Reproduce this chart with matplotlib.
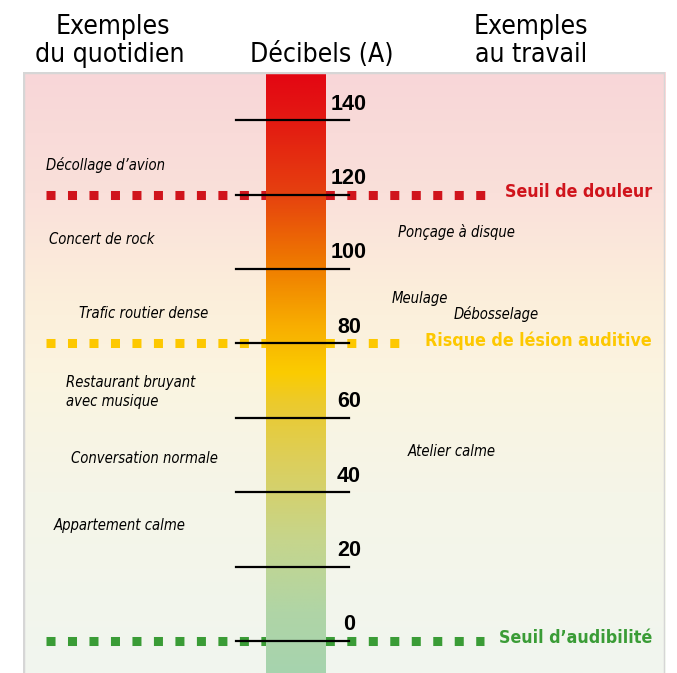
import numpy as np
import matplotlib
matplotlib.use("Agg")
import matplotlib.pyplot as plt
from matplotlib.colors import LinearSegmentedColormap

# ---------------------------------------------------------------- data
db_ticks = [0, 20, 40, 60, 80, 100, 120, 140]

daily_labels = ["Décollage d\u2019avion", "Concert de rock", "Trafic routier dense",
                "Restaurant bruyant\navec musique", "Conversation normale",
                "Appartement calme"]
daily_db = [128, 108, 88, 67, 49, 31]

work_labels = ["Ponçage à disque", "Meulage", "Débosselage", "Atelier calme"]
work_db = [110, 92, 88, 51]

threshold_labels = ["Seuil de douleur", "Risque de lésion auditive", "Seuil d\u2019audibilité"]
threshold_db = [120, 80, 0]

# ---------------------------------------------------------------- layout (pixels)
W, H = 677, 673
daily_x = [46, 49, 79, 66, 71, 54]
work_x = [398, 392, 454, 408]
thr_x_end = [486, 400, 484]
thr_colors = ["#d0141c", "#fdc800", "#3a9c36"]

COND = ["Liberation Sans Narrow", "DejaVu Sans"]

fig = plt.figure(figsize=(W / 100, H / 100), dpi=100)
fig.patch.set_facecolor("white")

# panel: x 23..665 px, y 72..673 px ; 0 dB at y=641, 3.72 px / dB
px_per_db = 3.72
y_top = (641 - 72) / px_per_db
y_bot = (641 - 673) / px_per_db
ax = fig.add_axes([23 / W, 0, (665 - 23) / W, (673 - 72) / H])
ax.set_xlim(23, 665)
ax.set_ylim(y_bot, y_top)
ax.axis("off")

# background gradient
bg = LinearSegmentedColormap.from_list("bg", [
    (0.0, "#f1f6ef"), (0.3, "#f5f5e8"), (0.5, "#fbf4e0"),
    (0.62, "#fcefdb"), (0.8, "#fae0da"), (1.0, "#f8d6d8")])
grad = np.linspace(0, 1, 256).reshape(-1, 1)
ax.imshow(grad, cmap=bg, aspect="auto", origin="lower",
          extent=[23, 665, y_bot, y_top], zorder=0)

# panel frame
for xx in (23, 665):
    ax.plot([xx, xx], [y_bot, y_top], color="#d6d6d6", lw=2.5, zorder=6,
            solid_capstyle="butt")
ax.plot([23, 665], [y_top, y_top], color="#d6d6d6", lw=2.5, zorder=6)

# threshold dotted lines (square dots)
for lvl, xe, col, lab in zip(threshold_db, thr_x_end, thr_colors, threshold_labels):
    ax.hlines(lvl, 46, xe, colors=col, lw=6.5, linestyles=(0, (1, 1.38)),
              capstyle="butt", zorder=2)
    ax.text(652, lvl + 0.8, lab, color=col, fontsize=12.8, fontweight="bold",
            family=COND, fontstretch="condensed", ha="right", va="center", zorder=5)

# decibel bar gradient
bar = LinearSegmentedColormap.from_list("bar", [
    (0.0, "#a6d3ae"), (0.1, "#b0d5a6"), (0.22, "#c6d58c"), (0.35, "#dccf5c"),
    (0.45, "#ecca2c"), (0.5, "#fbcc00"), (0.58, "#f8ad00"), (0.68, "#ef7b00"),
    (0.8, "#e6400f"), (0.92, "#e31a12"), (1.0, "#e30613")])
ax.imshow(grad, cmap=bar, aspect="auto", origin="lower",
          extent=[266, 326, y_bot, y_top], zorder=3)

# ticks
for t in db_ticks:
    ax.plot([236, 349], [t, t], color="black", lw=1.6, zorder=4)
    ax.text(349, t + 1.5, str(t), fontsize=15.5, fontweight="bold",
            family=["Liberation Sans", "DejaVu Sans"], ha="center",
            va="bottom", zorder=5)

# example labels
for lab, db, xx in zip(daily_labels, daily_db, daily_x):
    ax.text(xx, db, lab, fontsize=10.6, style="italic", family=COND,
            fontstretch="condensed", ha="left", va="center",
            linespacing=1.35, zorder=5)
for lab, db, xx in zip(work_labels, work_db, work_x):
    ax.text(xx, db, lab, fontsize=10.6, style="italic", family=COND,
            fontstretch="condensed", ha="left", va="center", zorder=5)

# headers
def hdr(x, y, s):
    fig.text(x / W, 1 - y / H, s, fontsize=19, family=COND,
             fontstretch="condensed", ha="center", va="baseline")

hdr(113, 34, "Exemples")
hdr(110, 62, "du quotidien")
hdr(322, 62, "Décibels (A)")
hdr(531, 34, "Exemples")
hdr(531, 62, "au travail")

fig.savefig("out.png", dpi=100)
